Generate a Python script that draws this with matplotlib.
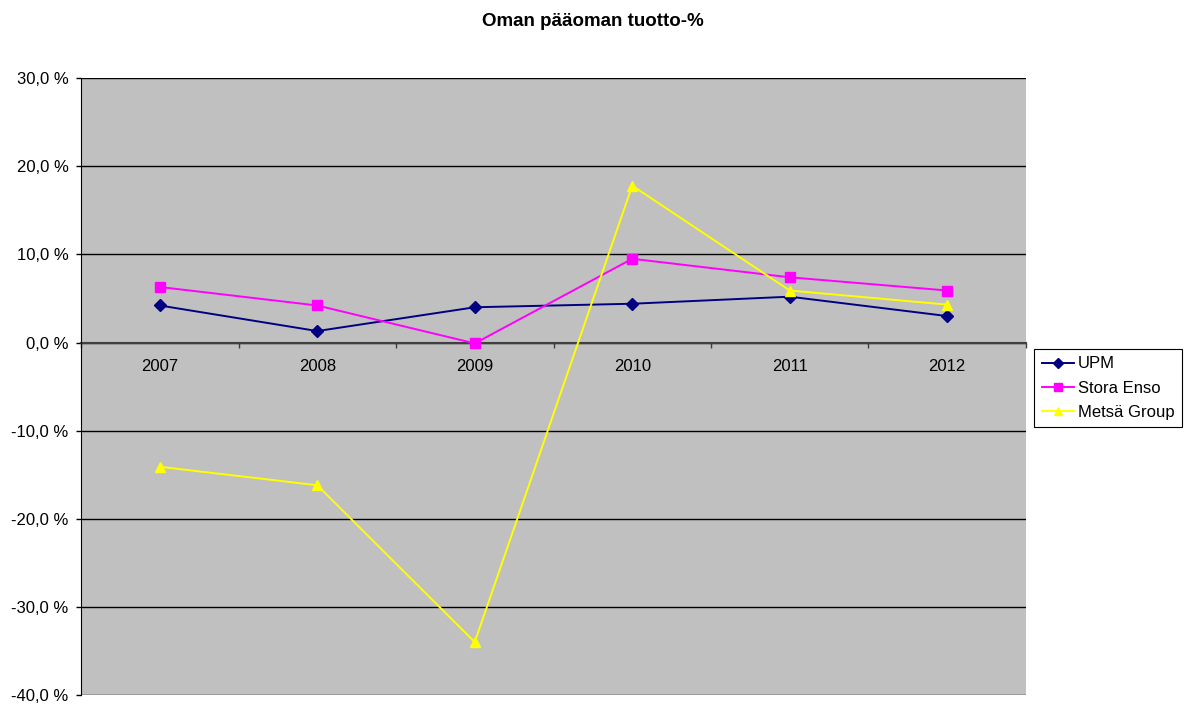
import matplotlib
matplotlib.use("Agg")
import matplotlib.pyplot as plt
from matplotlib.ticker import FixedLocator, FuncFormatter

plt.rcParams["font.family"] = ["Liberation Sans", "DejaVu Sans"]

years = ["2007", "2008", "2009", "2010", "2011", "2012"]
upm = [4.2, 1.3, 4.0, 4.4, 5.2, 3.0]
stora_enso = [6.3, 4.2, -0.1, 9.5, 7.4, 5.9]
metsa_group = [-14.1, -16.2, -34.0, 17.8, 5.9, 4.3]

series = [
    ("UPM", upm, "#000080", "D", 6),
    ("Stora Enso", stora_enso, "#FF00FF", "s", 6.5),
    ("Metsä Group", metsa_group, "#FFFF00", "^", 7),
]

fig = plt.figure(figsize=(11.85, 7.04), dpi=100)
fig.patch.set_facecolor("white")
ax = fig.add_axes([0.0684, 0.0128, 0.7974, 0.8762])
ax.set_facecolor("#C0C0C0")

x = list(range(len(years)))
for name, vals, color, marker, ms in series:
    ax.plot(x, vals, color=color, linewidth=1.4, marker=marker, markersize=ms,
            markeredgecolor=color, markerfacecolor=color, label=name, zorder=3)

ax.set_xlim(-0.5, len(years) - 0.5)
ax.set_ylim(-40, 30)

# horizontal gridlines every 10 %
ax.yaxis.set_major_locator(FixedLocator([-40, -30, -20, -10, 0, 10, 20, 30]))
ax.yaxis.set_major_formatter(FuncFormatter(lambda v, p: f"{v:.1f} %".replace(".", ",")))
ax.grid(axis="y", color="black", linewidth=1.0, zorder=1)
ax.tick_params(axis="y", direction="out", length=3.6, width=1, labelsize=12, pad=5.5)

# category axis drawn at zero, ticks between categories
ax.spines["bottom"].set_position(("data", 0))
ax.spines["bottom"].set_color("#404040")
ax.spines["bottom"].set_linewidth(1.5)
ax.spines["bottom"].set_zorder(2)
ax.spines["top"].set_visible(False)
ax.spines["right"].set_visible(False)
ax.spines["left"].set_color("black")
ax.xaxis.set_major_locator(FixedLocator([i - 0.5 for i in range(len(years) + 1)]))
ax.xaxis.set_major_formatter(FuncFormatter(lambda v, p: ""))
ax.xaxis.set_minor_locator(FixedLocator(x))
ax.set_xticklabels(years, minor=True)
ax.tick_params(axis="x", which="major", direction="out", length=3.6, width=1, color="#404040")
ax.tick_params(axis="x", which="minor", length=0, labelsize=12, pad=12)

fig.suptitle("Oman pääoman tuotto-%", x=0.5, y=0.982, fontsize=13.5, fontweight="bold")

leg = fig.legend(loc="upper left", bbox_to_anchor=(0.8726, 0.5043), fontsize=12,
                 frameon=True, fancybox=False, framealpha=1, edgecolor="black",
                 borderpad=0.45, handlelength=1.95, handletextpad=0.25, labelspacing=0.55,
                 borderaxespad=0, markerscale=0.85)
leg.get_frame().set_linewidth(0.8)

fig.savefig("out.png", dpi=100)
plt.close(fig)
